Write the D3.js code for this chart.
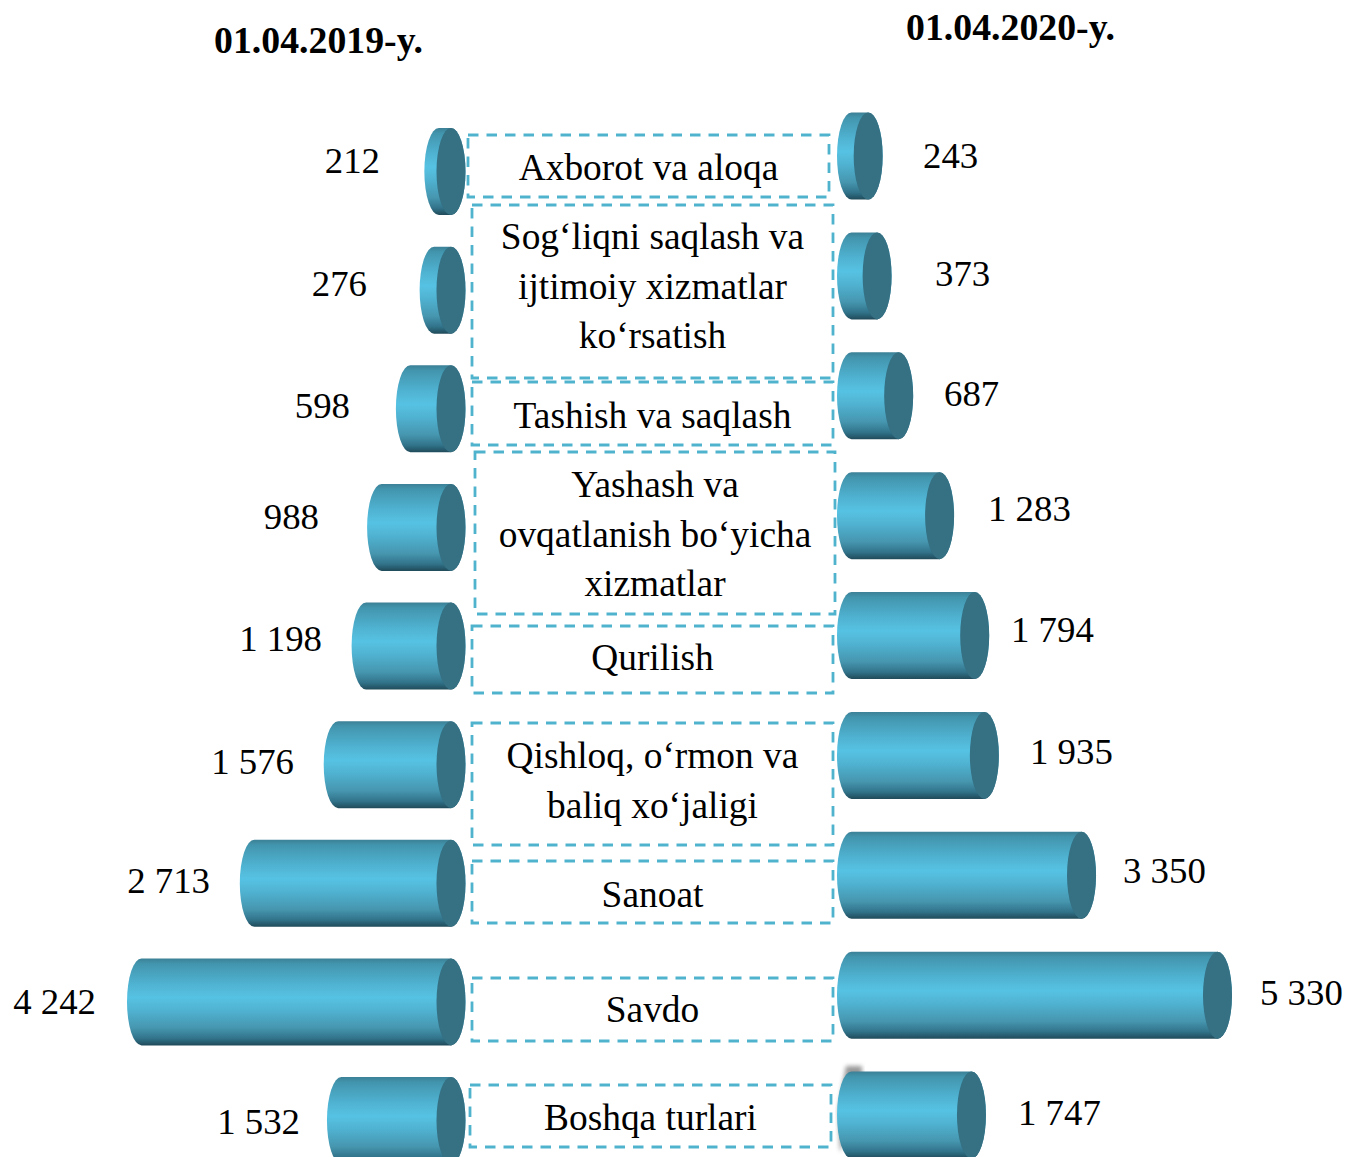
<!DOCTYPE html>
<html><head><meta charset="utf-8">
<script src="https://cdn.jsdelivr.net/npm/d3@7"></script>
<style>html,body{margin:0;padding:0;background:#fff;overflow:hidden}svg{display:block}text{font-family:"Liberation Serif",serif;fill:#000}</style>
</head><body><div id="c"></div>
<script>
const categories=["Axborot va aloqa","Sog‘liqni saqlash va ijtimoiy xizmatlar ko‘rsatish","Tashish va saqlash","Yashash va ovqatlanish bo‘yicha xizmatlar","Qurilish","Qishloq, o‘rmon va baliq xo‘jaligi","Sanoat","Savdo","Boshqa turlari"];
const labelLines=[["Axborot va aloqa"],["Sog‘liqni saqlash va","ijtimoiy xizmatlar","ko‘rsatish"],["Tashish va saqlash"],["Yashash va","ovqatlanish bo‘yicha","xizmatlar"],["Qurilish"],["Qishloq, o‘rmon va","baliq xo‘jaligi"],["Sanoat"],["Savdo"],["Boshqa turlari"]];
const values2019=[212,276,598,988,1198,1576,2713,4242,1532];
const values2020=[243,373,687,1283,1794,1935,3350,5330,1747];
const labels2019=["212","276","598","988","1 198","1 576","2 713","4 242","1 532"];
const labels2020=["243","373","687","1 283","1 794","1 935","3 350","5 330","1 747"];
const titles=["01.04.2019-y.","01.04.2020-y."];

// layout (separate from data)
const boxes=[[468,135,829,197],[472,205,833,378],[472,382,833,445],[475,452,835,614],[472,626,833,693],[472,723,833,845],[472,861,833,923],[472,978,833,1041],[470,1085,831,1147]];
const textFirstBase=[180,249,428,497,670,768,907,1022,1130];
const leftValueRight=[380,367,350,319,322,294,210,96,300];
const leftValueBase=[173,296,418,529,651,774,893,1014,1134];
const rightValueLeft=[923,935,944,988,1011,1030,1123,1260,1018];
const rightValueBase=[168,286,406,521,642,764,883,1005,1125];

const W=1349,H=1157,rx=14.5,bh=87;
const svg=d3.select("#c").append("svg").attr("width",W).attr("height",H);
const defs=svg.append("defs");
const g=defs.append("linearGradient").attr("id","cyl").attr("x1",0).attr("y1",0).attr("x2",0).attr("y2",1);
[[0,"#3b8096"],[.06,"#4295ad"],[.3,"#50b3d2"],[.45,"#56c2e3"],[.6,"#50b2d1"],[.8,"#4696af"],[.92,"#31738a"],[1,"#214b5a"]].forEach(s=>g.append("stop").attr("offset",s[0]).attr("stop-color",s[1]));
defs.append("filter").attr("id","soft").append("feGaussianBlur").attr("stdDeviation",.6);
defs.append("filter").attr("id","softer").append("feGaussianBlur").attr("stdDeviation",.35);
defs.append("filter").attr("id","smudge").append("feGaussianBlur").attr("stdDeviation",2);

const yL=d3.scalePoint().domain(categories).range([128,1077]);
const yR=d3.scalePoint().domain(categories).range([112.5,1071.5]);
const xL=d3.scaleLinear().domain([0,4242]).range([440,127]);
const xR=d3.scaleLinear().domain([0,5330]).range([866,1232]);

// dashed boxes
svg.append("g").attr("filter","url(#softer)").selectAll("rect").data(boxes).join("rect")
 .attr("x",d=>d[0]).attr("y",d=>d[1]).attr("width",d=>d[2]-d[0]).attr("height",d=>d[3]-d[1])
 .attr("fill","none").attr("stroke","#4fb3cd").attr("stroke-width",2.8).attr("stroke-dasharray","10.5 8");

// smudge at the last right-hand bar
svg.append("path").attr("d","M838 1110 L846 1066 L862 1066 L862 1100 L840 1152 Z").attr("fill","#808080").attr("filter","url(#smudge)").attr("opacity",.8);

function cyl(left,right,top){ // left/right: outer x of the cylinder
 const b=top+bh,ry=bh/2;
 return `M${left+rx} ${top} L${right-rx} ${top} A${rx} ${ry} 0 0 1 ${right-rx} ${b} L${left+rx} ${b} A${rx} ${ry} 0 0 1 ${left+rx} ${top} Z`;
}
const bars=svg.append("g").attr("filter","url(#soft)");
const capFill="#346f83";
values2019.forEach((v,i)=>{
 const t=yL(categories[i]),l=xL(v),r=465.5;
 bars.append("path").attr("d",cyl(l,r,t)).attr("fill","url(#cyl)");
 bars.append("ellipse").attr("cx",r-rx).attr("cy",t+bh/2).attr("rx",rx).attr("ry",bh/2).attr("fill",capFill);
});
values2020.forEach((v,i)=>{
 const t=yR(categories[i]),l=837,r=xR(v);
 bars.append("path").attr("d",cyl(l,r,t)).attr("fill","url(#cyl)");
 bars.append("ellipse").attr("cx",r-rx).attr("cy",t+bh/2).attr("rx",rx).attr("ry",bh/2).attr("fill",capFill);
});

const tx=svg.append("g").attr("font-size",37.4);
tx.selectAll(".l").data(labels2019).join("text").attr("text-anchor","end").attr("x",(d,i)=>leftValueRight[i]).attr("y",(d,i)=>leftValueBase[i]).attr("font-size",36.8).text(d=>d);
tx.selectAll(".r").data(labels2020).join("text").attr("x",(d,i)=>rightValueLeft[i]).attr("y",(d,i)=>rightValueBase[i]).attr("font-size",36.8).text(d=>d);
labelLines.forEach((ls,i)=>{
 const cx=(boxes[i][0]+boxes[i][2])/2;
 ls.forEach((s,j)=>tx.append("text").attr("text-anchor","middle").attr("x",cx).attr("y",textFirstBase[i]+j*49.5).text(s));
});
svg.append("text").attr("x",214).attr("y",53).attr("font-size",37.8).attr("font-weight","bold").text(titles[0]);
svg.append("text").attr("x",906).attr("y",40).attr("font-size",37.8).attr("font-weight","bold").text(titles[1]);
</script></body></html>
